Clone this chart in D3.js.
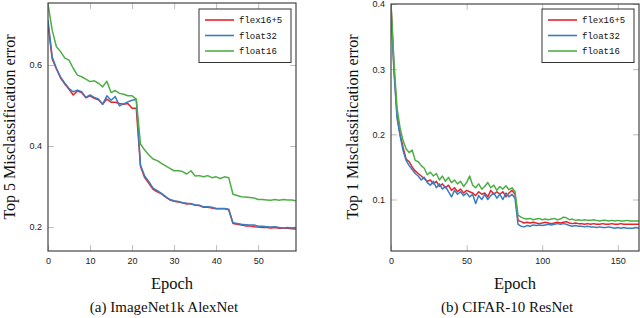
<!DOCTYPE html>
<html>
<head>
<meta charset="utf-8">
<script src="https://cdn.jsdelivr.net/npm/d3@7"></script>
<style>
  body { margin: 0; background: #fff; }
</style>
</head>
<body>
<div id="chart"></div>
<script>
////////////////////////////////////////////////////////////////////////////////
//////////////////////////////////////////////////////////////////////// Data
////////////////////////////////////////////////////////////////////////////////

const seriesNames = ["flex16+5", "float32", "float16"];
const seriesColors = ["#e8232a", "#3a7cc0", "#4caf45"];

// (a) ImageNet1k AlexNet, top-5 error per epoch
const imagenetEpochs = d3.range(0, 60);
const imagenetFlex = [
  0.700, 0.615, 0.590, 0.568, 0.553, 0.540, 0.526, 0.536, 0.532, 0.519,
  0.524, 0.518, 0.514, 0.503, 0.516, 0.508, 0.508, 0.505, 0.503, 0.505,
  0.493, 0.493, 0.350, 0.322, 0.308, 0.293, 0.287, 0.282, 0.274, 0.267,
  0.264, 0.262, 0.260, 0.257, 0.258, 0.254, 0.253, 0.249, 0.249, 0.247,
  0.245, 0.245, 0.245, 0.243, 0.209, 0.207, 0.205, 0.203, 0.203, 0.201,
  0.200, 0.199, 0.199, 0.198, 0.199, 0.197, 0.197, 0.197, 0.196, 0.195
];
const imagenetFloat32 = [
  0.711, 0.620, 0.592, 0.570, 0.555, 0.542, 0.534, 0.538, 0.534, 0.520,
  0.526, 0.520, 0.516, 0.503, 0.524, 0.513, 0.522, 0.499, 0.504, 0.509,
  0.513, 0.515, 0.353, 0.326, 0.312, 0.296, 0.290, 0.283, 0.275, 0.268,
  0.265, 0.263, 0.260, 0.259, 0.257, 0.255, 0.254, 0.250, 0.250, 0.249,
  0.246, 0.246, 0.246, 0.244, 0.211, 0.209, 0.207, 0.206, 0.205, 0.205,
  0.202, 0.202, 0.201, 0.200, 0.201, 0.199, 0.198, 0.199, 0.198, 0.199
];
const imagenetFloat16 = [
  0.750, 0.686, 0.645, 0.633, 0.617, 0.612, 0.592, 0.575, 0.571, 0.565,
  0.559, 0.561, 0.555, 0.546, 0.560, 0.532, 0.537, 0.530, 0.528, 0.524,
  0.524, 0.516, 0.405, 0.390, 0.378, 0.368, 0.364, 0.357, 0.351, 0.345,
  0.339, 0.339, 0.337, 0.331, 0.339, 0.326, 0.327, 0.324, 0.327, 0.322,
  0.324, 0.320, 0.324, 0.322, 0.281, 0.278, 0.275, 0.274, 0.273, 0.272,
  0.268, 0.268, 0.267, 0.266, 0.268, 0.266, 0.268, 0.267, 0.267, 0.265
];

// (b) CIFAR-10 ResNet, top-1 error every second epoch
const cifarEpochs = d3.range(0, 165, 2);
const cifarFlex = [
  0.400, 0.300, 0.230, 0.200, 0.180, 0.162, 0.158, 0.150, 0.144, 0.140,
  0.136, 0.132, 0.128, 0.130, 0.124, 0.128, 0.120, 0.124, 0.118, 0.122,
  0.114, 0.118, 0.112, 0.116, 0.110, 0.114, 0.112, 0.110, 0.106, 0.112,
  0.108, 0.110, 0.104, 0.114, 0.108, 0.112, 0.108, 0.112, 0.104, 0.110,
  0.114, 0.108, 0.068, 0.066, 0.064, 0.065, 0.064, 0.065, 0.064, 0.063,
  0.064, 0.065, 0.064, 0.063, 0.064, 0.065, 0.064, 0.065, 0.066, 0.064,
  0.063, 0.064, 0.063, 0.063, 0.062, 0.063, 0.062, 0.063, 0.062, 0.062,
  0.063, 0.062, 0.062, 0.063, 0.062, 0.062, 0.063, 0.062, 0.062, 0.062,
  0.062, 0.062, 0.062
];
const cifarFloat32 = [
  0.390, 0.295, 0.225, 0.198, 0.175, 0.160, 0.152, 0.146, 0.140, 0.136,
  0.130, 0.134, 0.126, 0.122, 0.128, 0.118, 0.124, 0.116, 0.120, 0.112,
  0.104, 0.114, 0.108, 0.112, 0.106, 0.110, 0.104, 0.108, 0.094, 0.106,
  0.100, 0.108, 0.100, 0.106, 0.110, 0.102, 0.108, 0.100, 0.110, 0.104,
  0.108, 0.102, 0.062, 0.059, 0.058, 0.060, 0.059, 0.061, 0.060, 0.061,
  0.060, 0.061, 0.062, 0.061, 0.062, 0.063, 0.062, 0.063, 0.062, 0.060,
  0.059, 0.060, 0.059, 0.059, 0.058, 0.059, 0.058, 0.058, 0.057, 0.058,
  0.057, 0.057, 0.058, 0.057, 0.056, 0.057, 0.056, 0.057, 0.056, 0.056,
  0.056, 0.057, 0.056
];
const cifarFloat16 = [
  0.400, 0.310, 0.240, 0.210, 0.190, 0.178, 0.172, 0.176, 0.160, 0.158,
  0.152, 0.148, 0.138, 0.142, 0.136, 0.140, 0.130, 0.136, 0.128, 0.134,
  0.126, 0.130, 0.124, 0.128, 0.120, 0.126, 0.136, 0.122, 0.118, 0.124,
  0.116, 0.120, 0.126, 0.118, 0.122, 0.114, 0.120, 0.116, 0.121, 0.115,
  0.118, 0.112, 0.076, 0.073, 0.071, 0.070, 0.071, 0.069, 0.070, 0.071,
  0.069, 0.070, 0.069, 0.070, 0.071, 0.069, 0.070, 0.073, 0.072, 0.069,
  0.070, 0.068, 0.069, 0.068, 0.069, 0.068, 0.068, 0.069, 0.068, 0.067,
  0.068, 0.068, 0.067, 0.068, 0.067, 0.068, 0.067, 0.067, 0.068, 0.067,
  0.067, 0.067, 0.067
];

// tick values
const imagenetXTicks = [0, 10, 20, 30, 40, 50];
const imagenetYTicks = [0.2, 0.4, 0.6];
const cifarXTicks = [0, 50, 100, 150];
const cifarYTicks = [0.1, 0.2, 0.3, 0.4];

////////////////////////////////////////////////////////////////////////////////
/////////////////////////////////////////////////////////////////////// Drawing
////////////////////////////////////////////////////////////////////////////////

const svg = d3.select("#chart")
              .append("svg")
                .attr("width", 640)
                .attr("height", 318);

const panels = [
  {
    id: "imagenet",
    left: 48, top: 3, width: 248, height: 248,
    epochs: imagenetEpochs,
    series: [imagenetFlex, imagenetFloat32, imagenetFloat16],
    xDomain: [0, 59], yDomain: [0.141, 0.753],
    xTicks: imagenetXTicks, yTicks: imagenetYTicks,
    yLabel: "Top 5 Misclassification error",
    caption: "(a) ImageNet1k AlexNet"
  },
  {
    id: "cifar",
    left: 391, top: 4, width: 248, height: 247,
    epochs: cifarEpochs,
    series: [cifarFlex, cifarFloat32, cifarFloat16],
    xDomain: [0, 164], yDomain: [0.021, 0.4],
    xTicks: cifarXTicks, yTicks: cifarYTicks,
    yLabel: "Top 1 Misclassification error",
    caption: "(b) CIFAR-10 ResNet"
  }
];

function styleAxis(sel) {
  sel.select(".domain").remove();
  sel.selectAll(".tick line").attr("stroke", "#bdbdbd").attr("stroke-width", 1);
  sel.selectAll(".tick text")
     .attr("fill", "#222")
     .style("font-family", "'Liberation Sans', Arial, sans-serif")
     .style("font-size", "9px");
}

function drawPanel(p) {
  const g = svg.append("g")
               .attr("transform", `translate(${p.left},${p.top})`);

  const xScale = d3.scaleLinear().domain(p.xDomain).range([0, p.width]);
  const yScale = d3.scaleLinear().domain(p.yDomain).range([p.height, 0]);

  // inner ticks on all four sides, like pgfplots
  g.append("g")
   .attr("transform", `translate(0,${p.height})`)
   .call(d3.axisBottom(xScale).tickValues(p.xTicks).tickSize(-6).tickPadding(7))
   .call(styleAxis);
  g.append("g")
   .call(d3.axisTop(xScale).tickValues(p.xTicks).tickSize(-6).tickFormat(""))
   .call(styleAxis);
  g.append("g")
   .call(d3.axisLeft(yScale).tickValues(p.yTicks).tickSize(-6).tickPadding(6)
           .tickFormat(d3.format(".1f")))
   .call(styleAxis);
  g.append("g")
   .attr("transform", `translate(${p.width},0)`)
   .call(d3.axisRight(yScale).tickValues(p.yTicks).tickSize(-6).tickFormat(""))
   .call(styleAxis);

  // clip lines to the plot box
  g.append("clipPath")
   .attr("id", `clip-${p.id}`)
   .append("rect")
     .attr("width", p.width)
     .attr("height", p.height);

  const line = d3.line()
                 .x((d, i) => xScale(p.epochs[i]))
                 .y(d => yScale(d));

  g.append("g")
   .attr("clip-path", `url(#clip-${p.id})`)
   .selectAll("path")
   .data(p.series)
   .join("path")
     .attr("fill", "none")
     .attr("stroke", (d, i) => seriesColors[i])
     .attr("stroke-width", 1.5)
     .attr("stroke-linejoin", "round")
     .attr("d", line);

  // frame
  g.append("rect")
   .attr("width", p.width)
   .attr("height", p.height)
   .attr("fill", "none")
   .attr("stroke", "#454545")
   .attr("stroke-width", 1.2);

  // legend
  const legend = g.append("g")
                  .attr("transform", `translate(${p.width - 97},${9 - p.top})`);
  legend.append("rect")
        .attr("width", 92)
        .attr("height", 53.5)
        .attr("fill", "#fff")
        .attr("stroke", "#333")
        .attr("stroke-width", 1);
  const item = legend.selectAll(".item")
                     .data(seriesNames)
                     .join("g")
                       .attr("class", "item")
                       .attr("transform", (d, i) => `translate(0,${11 + i * 15.5})`);
  item.append("line")
      .attr("x1", 6).attr("x2", 35)
      .attr("stroke", (d, i) => seriesColors[i])
      .attr("stroke-width", 1.6);
  item.append("text")
      .attr("x", 40)
      .attr("y", 3)
      .style("font-family", "'Liberation Mono', 'DejaVu Sans Mono', monospace")
      .style("font-size", "9px")
      .attr("fill", "#111")
      .text(d => d);

  // axis titles
  const serif = "'Liberation Serif', 'Times New Roman', serif";
  g.append("text")
   .attr("x", p.width / 2)
   .attr("y", 289 - p.top)
   .style("text-anchor", "middle")
   .style("font-family", serif)
   .style("font-size", "16.5px")
   .attr("fill", "#111")
   .text("Epoch");
  g.append("text")
   .attr("transform", "rotate(-90)")
   .attr("x", -(127 - p.top))
   .attr("y", -33.5)
   .style("text-anchor", "middle")
   .style("font-family", serif)
   .style("font-size", "16px")
   .attr("fill", "#111")
   .text(p.yLabel);

  // sub caption
  g.append("text")
   .attr("x", p.width / 2 - 8)
   .attr("y", 312 - p.top)
   .style("text-anchor", "middle")
   .style("font-family", serif)
   .style("font-size", "15px")
   .attr("fill", "#111")
   .text(p.caption);
}

panels.forEach(drawPanel);
</script>
</body>
</html>
